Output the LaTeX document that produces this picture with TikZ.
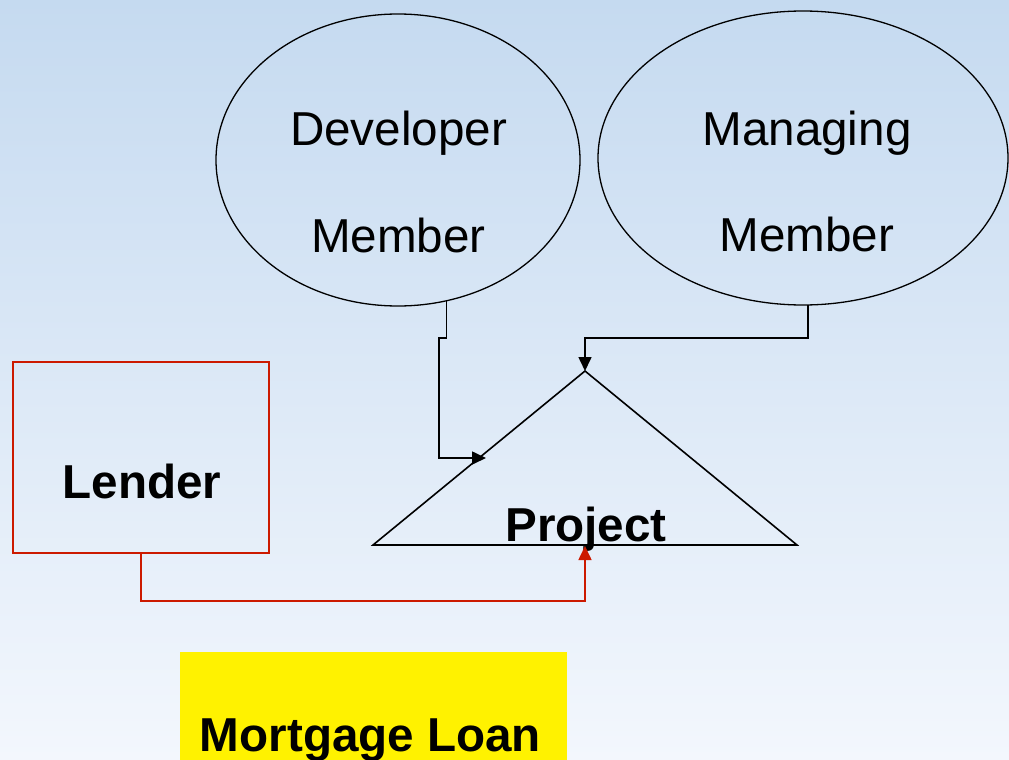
\documentclass[tikz,border=0pt]{standalone}
\usepackage{fontspec}
\setmainfont{Liberation Sans}
\usetikzlibrary{shapes.geometric,arrows.meta}
\definecolor{bgtop}{HTML}{C5DAF0}
\definecolor{bgbot}{HTML}{F3F7FD}
\definecolor{lendred}{HTML}{CC1A00}
\begin{document}
\begin{tikzpicture}[x=1pt,y=-1pt,
  bigtext/.style={font=\fontsize{47.6}{50}\selectfont, inner sep=0pt, anchor=base},
  boldtext/.style={bigtext, font=\fontsize{47.6}{50}\selectfont\bfseries},
  oval/.style={draw=black, line width=1.3pt, ellipse, inner sep=0pt, outer sep=0pt},
  conn/.style={draw=black, line width=1.6pt, -{Triangle[length=14pt,width=13pt]}},
  redconn/.style={draw=lendred, line width=1.6pt, -{Triangle[length=14pt,width=13pt]}}
]
\useasboundingbox (0,0) rectangle (1009,760);
\shade[top color=bgtop, bottom color=bgbot] (0,0) rectangle (1009,760);

% ellipses
\node[oval, minimum width=364pt, minimum height=292pt] (dev) at (398,160) {};
\node[oval, minimum width=410pt, minimum height=294pt] (mgr) at (803,158) {};
\node[bigtext] (devA) at (398.5,145) {Developer};
\node[bigtext] (devB) at (398.5,252) {Member};
\node[bigtext] (mgrA) at (807,145) {Managing};
\node[bigtext] (mgrB) at (807,251) {Member};

% lender
\node[draw=lendred, line width=1.6pt, minimum width=256pt, minimum height=191pt, inner sep=0pt] (lender) at (141,457.5) {};
\node[boldtext] (lenderT) at (142,498) {Lender};

% project triangle
\coordinate (ptop) at (585,371);
\coordinate (pleft) at (373,545);
\coordinate (pright) at (797,545);
\draw[line width=1.6pt, line join=miter] (ptop) -- (pleft) -- (pright) -- cycle;
\node[boldtext] (projT) at (586,541) {Project};
\coordinate (pin) at (486,458);
\coordinate (pbase) at (585,546);

% mortgage loan box
\node[fill=yellow, minimum width=387pt, minimum height=112pt, inner sep=0pt] (loan) at (373.5,708) {};
\node[boldtext] (loanT) at (370.5,751) {Mortgage Loan};

% connectors
\draw[conn] (dev.-71.6) -- (dev.-71.6 |- 0,338) -- (439,338) -- (439,458) -- (pin);
\draw[conn] ([xshift=5pt]mgr.south) -- (808,338) -- (585,338) -- (ptop);
\draw[redconn] (lender.south) -- (141,601) -- (585,601) -- (pbase);
\end{tikzpicture}
\end{document}
